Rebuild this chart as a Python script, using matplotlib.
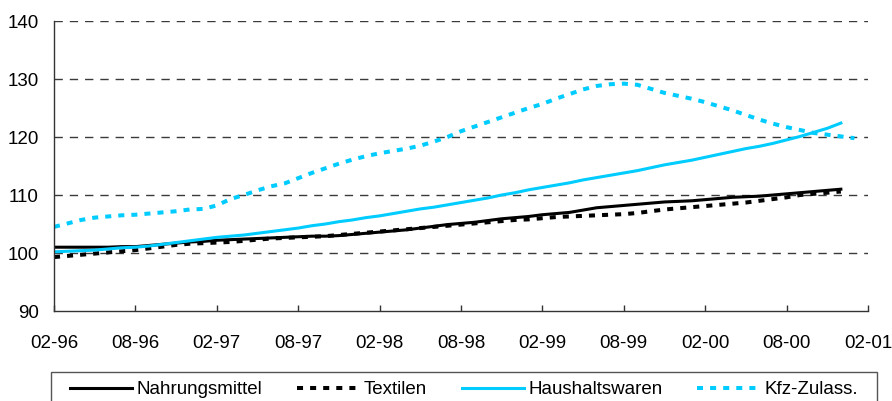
import numpy as np
import matplotlib.pyplot as plt
from matplotlib.patches import Rectangle

plt.rcParams['font.family'] = ['Liberation Sans', 'DejaVu Sans']

# monthly index values, Feb 1996 onwards
nahrung = [101.0, 101.0, 101.0, 101.0, 101.0, 101.1, 101.1,
           101.3, 101.5, 101.7, 101.9, 102.0, 102.2,
           102.3, 102.4, 102.5, 102.6, 102.7, 102.8,
           102.9, 102.9, 103.0, 103.2, 103.4, 103.6,
           103.8, 104.0, 104.3, 104.6, 104.9, 105.1,
           105.3, 105.6, 105.9, 106.1, 106.3, 106.6,
           106.8, 107.0, 107.4, 107.8, 108.0, 108.2,
           108.4, 108.6, 108.8, 108.9, 109.0, 109.2,
           109.4, 109.6, 109.7, 109.8, 110.0, 110.2,
           110.4, 110.6, 110.8, 111.0]
textilen = [99.3, 99.5, 99.7, 99.9, 100.1, 100.3, 100.5,
            100.8, 101.1, 101.4, 101.6, 101.7, 101.8,
            101.9, 102.1, 102.3, 102.5, 102.6, 102.7,
            102.8, 102.9, 103.1, 103.3, 103.5, 103.7,
            103.9, 104.1, 104.3, 104.5, 104.7, 104.9,
            105.1, 105.3, 105.5, 105.7, 105.8, 106.0,
            106.2, 106.3, 106.4, 106.5, 106.6, 106.7,
            106.9, 107.2, 107.5, 107.7, 107.9, 108.1,
            108.3, 108.5, 108.7, 109.0, 109.3, 109.6,
            110.0, 110.2, 110.4, 110.6]
haushalt = [100.2, 100.3, 100.4, 100.5, 100.7, 100.9, 101.0,
            101.2, 101.5, 101.8, 102.1, 102.4, 102.7,
            102.9, 103.1, 103.4, 103.7, 104.0, 104.3,
            104.7, 105.0, 105.4, 105.7, 106.1, 106.4,
            106.8, 107.2, 107.6, 107.9, 108.3, 108.7,
            109.1, 109.5, 110.0, 110.4, 110.9, 111.3,
            111.7, 112.1, 112.6, 113.0, 113.4, 113.8,
            114.2, 114.7, 115.2, 115.6, 116.0, 116.5,
            117.0, 117.5, 118.0, 118.4, 118.9, 119.5,
            120.1, 120.8, 121.5, 122.4]
kfz = [104.5, 105.1, 105.7, 106.1, 106.3, 106.5, 106.6,
       106.8, 107.0, 107.2, 107.5, 107.6, 108.2,
       109.3, 110.0, 110.8, 111.5, 112.0, 112.9,
       113.8, 114.6, 115.4, 116.1, 116.7, 117.2,
       117.6, 118.0, 118.5, 119.2, 120.0, 121.0,
       121.8, 122.6, 123.4, 124.2, 125.0, 125.7,
       126.6, 127.4, 128.2, 128.8, 129.1, 129.2,
       129.0, 128.3, 127.6, 127.1, 126.6, 126.0,
       125.3, 124.6, 123.8, 123.0, 122.3, 121.7,
       121.2, 120.7, 120.4, 120.1, 119.8]
tick_labels = ['02-96', '08-96', '02-97', '08-97', '02-98', '08-98',
               '02-99', '08-99', '02-00', '08-00', '02-01']

cyan = '#00CCFF'
fig = plt.figure(figsize=(8.92, 4.01), dpi=100)
ax = fig.add_axes([54/892, 90/401, 814/892, 290/401])

dash = (1.5, 1.75)
ax.plot(np.arange(len(nahrung)), nahrung, color='black', lw=2.2, label='Nahrungsmittel')
ax.plot(np.arange(len(textilen)), textilen, color='black', lw=2.9, dashes=dash, label='Textilen')
ax.plot(np.arange(len(haushalt)), haushalt, color=cyan, lw=2.2, label='Haushaltswaren')
ax.plot(np.arange(len(kfz)), kfz, color=cyan, lw=2.9, dashes=dash, label='Kfz-Zulass.')

ax.set_xlim(0, 60)
ax.set_ylim(90, 140)
ax.set_xticks(np.arange(0, 61, 6))
ax.set_xticklabels(tick_labels)
ax.set_yticks(np.arange(90, 141, 10))
for v in range(100, 141, 10):
    ax.axhline(v, color='#3a3a3a', lw=1, dashes=(6, 5), zorder=0)
for s in ['top', 'right']:
    ax.spines[s].set_visible(False)
for s in ['left', 'bottom']:
    ax.spines[s].set_color('#333333')
    ax.spines[s].set_linewidth(1)
ax.tick_params(axis='x', direction='in', length=4, width=1, color='#333333', pad=17, labelsize=13.5)
ax.tick_params(axis='y', length=0, pad=11, labelsize=13.5)

# legend frame drawn by hand: top edge at y=372 px, runs past the bottom of the image
top = 1 - 372/401
fig.patches.append(Rectangle((51/892, top - 0.2), (877-51)/892, 0.2, transform=fig.transFigure,
                             fill=False, edgecolor='#555555', lw=1))
leg = fig.legend(loc='upper left', bbox_to_anchor=(61/892, top - 0.2, (867-61)/892, 0.2),
                 mode='expand', ncol=4, fontsize=13.5, frameon=False,
                 handlelength=3.3, handletextpad=0.25, columnspacing=2.1, borderpad=0.5,
                 borderaxespad=0)

fig.savefig('out.png', dpi=100)
